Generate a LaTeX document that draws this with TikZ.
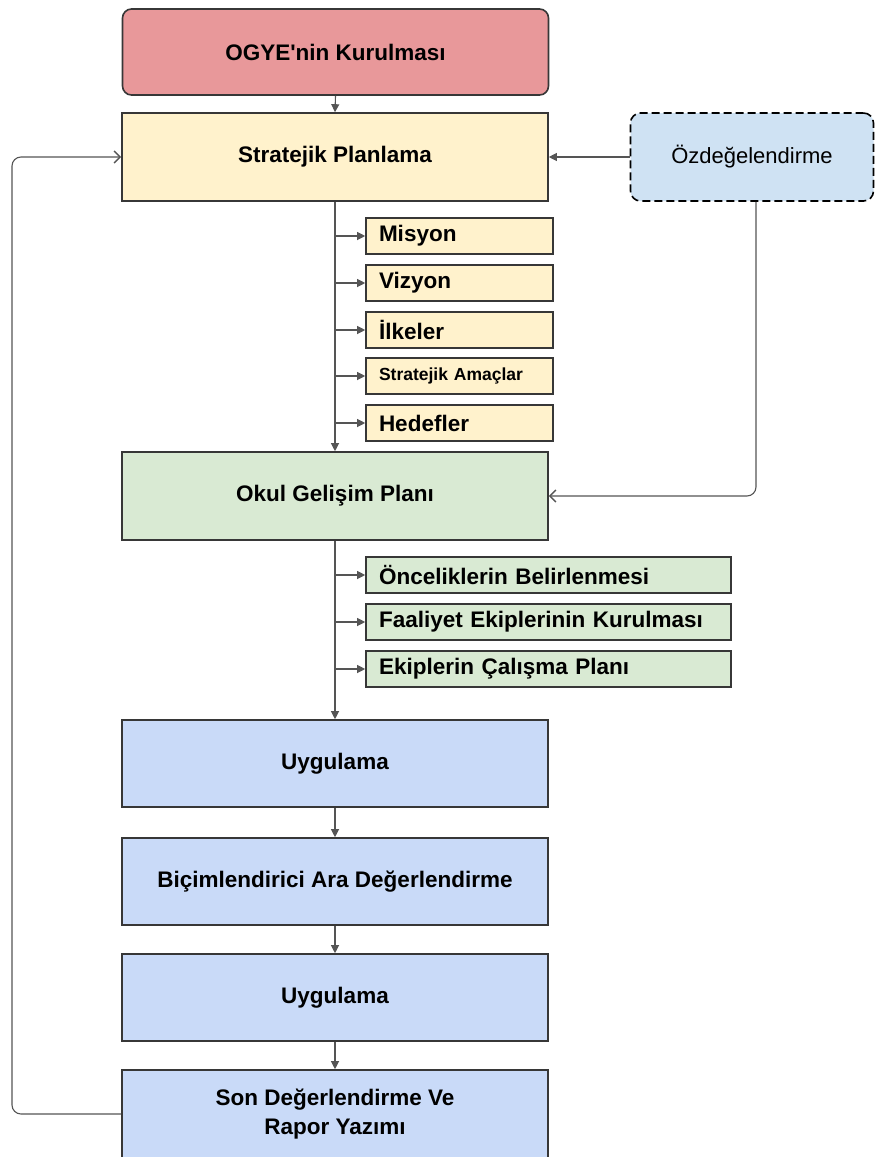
\documentclass[tikz,border=0pt]{standalone}
\usepackage{fontspec}
\setmainfont{Liberation Sans}
\usetikzlibrary{arrows.meta}
\definecolor{pinkf}{RGB}{232,152,154}
\definecolor{yelf}{RGB}{255,242,204}
\definecolor{ozdf}{RGB}{207,226,243}
\definecolor{grnf}{RGB}{217,234,211}
\definecolor{bluf}{RGB}{201,218,248}
\definecolor{edge}{RGB}{55,55,55}
\definecolor{conn}{RGB}{85,85,85}
\tikzset{
  mainbox/.style={draw=edge, line width=1.6pt, minimum width=426pt, minimum height=87pt, inner sep=2pt, align=center, font=\fontsize{22.5}{29}\selectfont\bfseries},
  subbox/.style={draw=edge, line width=1.6pt, minimum height=36pt, inner xsep=13pt, inner ysep=2pt, align=left, font=\fontsize{22.5}{24}\selectfont\bfseries},
  flow/.style={draw=conn, line width=1.1pt, -{Triangle[length=8pt,width=8pt]}},
  fback/.style={draw=conn, line width=1.1pt, rounded corners=9pt, -{Straight Barb[length=6pt,width=12pt,line width=1.5pt]}}
}
\begin{document}
\begin{tikzpicture}[x=1pt,y=-1pt]
\useasboundingbox (0,0) rectangle (875,1157);
\clip (0,0) rectangle (875,1157);
% main boxes
\node[mainbox, fill=pinkf, rounded corners=9pt, minimum height=86pt] (ogye) at (335.5,52) {OGYE\textquotesingle nin Kurulması};
\node[mainbox, fill=yelf, minimum height=88pt] (strat) at (335,157) {Stratejik Planlama};
\node[draw=black, line width=1.6pt, dash pattern=on 8pt off 4pt, rounded corners=10pt, fill=ozdf, minimum width=243pt, minimum height=88pt, font=\fontsize{22}{24}\selectfont] (ozd) at (752,157) {Özdeğelendirme};
% yellow sub boxes
\node[subbox, fill=yelf, text width=161pt] (mis) at (459.5,236) {Misyon};
\node[subbox, fill=yelf, text width=161pt] (viz) at (459.5,283) {Vizyon};
\node[subbox, fill=yelf, text width=161pt] (ilk) at (459.5,330) {İlkeler};
\node[subbox, fill=yelf, text width=161pt, font=\fontsize{17.5}{20}\selectfont\bfseries] (sa) at (459.5,376) {Stratejik Amaçlar};
\node[subbox, fill=yelf, text width=161pt] (hed) at (459.5,423) {Hedefler};
\node[mainbox, fill=grnf, minimum height=88pt] (okul) at (335,496) {Okul Gelişim Planı};
% green sub boxes
\node[subbox, fill=grnf, text width=339pt] (onc) at (548.5,575) {Önceliklerin Belirlenmesi};
\node[subbox, fill=grnf, text width=339pt] (faa) at (548.5,622) {Faaliyet Ekiplerinin Kurulması};
\node[subbox, fill=grnf, text width=339pt] (ekc) at (548.5,669) {Ekiplerin Çalışma Planı};
% blue boxes
\node[mainbox, fill=bluf] (uyg1) at (335,763.5) {Uygulama};
\node[mainbox, fill=bluf] (bic) at (335,881.5) {Biçimlendirici Ara Değerlendirme};
\node[mainbox, fill=bluf] (uyg2) at (335,997.5) {Uygulama};
\node[mainbox, fill=bluf, minimum height=88pt] (son) at (335,1114) {Son Değerlendirme Ve\\Rapor Yazımı};
% connectors
\draw[flow] (ogye.south) -- (strat.north);
\draw[flow] (ozd.west) -- (strat.east);
\draw[flow] (strat.south) -- (okul.north);
\foreach \b in {mis,viz,ilk,sa,hed} {
  \draw[flow] (strat.south |- \b.west) -- (\b.west);
}
\draw[flow] (okul.south) -- (uyg1.north);
\foreach \b in {onc,faa,ekc} {
  \draw[flow] (okul.south |- \b.west) -- (\b.west);
}
\draw[flow] (uyg1.south) -- (bic.north);
\draw[flow] (bic.south) -- (uyg2.north);
\draw[flow] (uyg2.south) -- (son.north);
\coordinate (ozdout) at ([xshift=4pt]ozd.south);
\draw[fback] (ozdout) |- (okul.east);
\coordinate (loopx) at (12,1114);
\draw[fback] (son.west) -- (loopx) |- (strat.west);
\end{tikzpicture}
\end{document}
